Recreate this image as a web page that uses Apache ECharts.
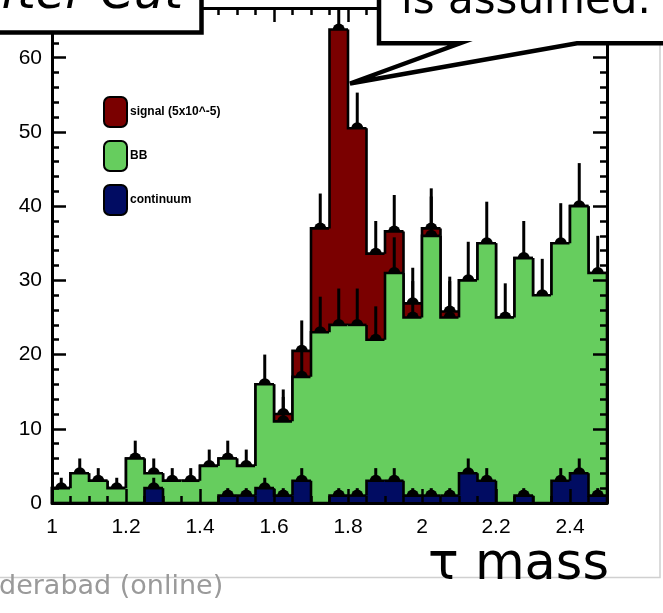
<!DOCTYPE html>
<html>
<head>
<meta charset="utf-8">
<script src="https://cdn.jsdelivr.net/npm/echarts@6/dist/echarts.min.js"></script>
<style>
  html, body { margin: 0; padding: 0; background: #fff; }
  #chart { width: 663px; height: 613px; }
</style>
</head>
<body>
<div id="chart"></div>
<script>
// tau mass histogram: lower bin edges (bin width 0.05)
const binStart = [1.00, 1.05, 1.10, 1.15, 1.20, 1.25, 1.30, 1.35, 1.40, 1.45,
                  1.50, 1.55, 1.60, 1.65, 1.70, 1.75, 1.80, 1.85, 1.90, 1.95,
                  2.00, 2.05, 2.10, 2.15, 2.20, 2.25, 2.30, 2.35, 2.40, 2.45];
const binWidth = 0.05;

// entries per bin for each stacked component
const continuum = [0, 0, 0, 0, 0, 2, 0, 0, 0, 1, 1, 2, 1, 3, 0, 1, 1, 3, 3, 1, 1, 1, 4, 3, 0, 1, 0, 3, 4, 1];
const bb        = [2, 4, 3, 2, 6, 2, 3, 3, 5, 5, 4, 14, 10, 14, 23, 23, 23, 19, 28, 24, 35, 24, 26, 32, 25, 32, 28, 32, 36, 30];
const signal    = [0, 0, 0, 0, 0, 0, 0, 0, 0, 0, 0, 0, 1, 3.5, 14, 39.8, 26.5, 11.6, 5.6, 1.9, 1, 0.8, 0, 0, 0, 0, 0, 0, 0, 0];

// upward error bar lengths at the top of each stack level
const errContinuum = [0, 0, 0, 0, 0, 1.4, 0, 0, 0, 1, 1, 1.4, 1, 1.7, 0, 1, 1, 1.7, 1.7, 1, 1, 1, 2, 1.7, 0, 1, 0, 1.7, 2, 1];
const errBB        = [1.4, 2.0, 1.7, 1.4, 2.4, 2.0, 1.7, 1.7, 2.2, 2.4, 2.2, 4.0, 3.3, 4.1, 4.8, 4.9, 4.9, 4.5, 4.8, 4.9,
                      5.3, 4.9, 5.2, 5.6, 4.6, 5.0, 4.9, 5.4, 5.8, 5.0];
const errSignal    = [0, 0, 0, 0, 0, 0, 0, 0, 0, 0, 0, 0, 3.3, 4.1, 4.7, 5.0, 4.8, 4.4, 4.9, 4.8, 5.4, 4.7, 0, 0, 0, 0, 0, 0, 0, 0];

const xTickLabels = ['1', '1.2', '1.4', '1.6', '1.8', '2', '2.2', '2.4'];
const yTickLabels = ['0', '10', '20', '30', '40', '50', '60'];

const X_MIN = 1, X_MAX = 2.5, Y_MIN = 0, Y_MAX = 66.7;
const COLORS = { signal: '#7a0000', bb: '#66cd5e', continuum: '#010c62' };

// cumulative stack tops
const topCont = continuum.slice();
const topBB = bb.map((v, i) => v + continuum[i]);
const topSig = signal.map((v, i) => v + topBB[i]);

function histData(tops) {
  return tops.map((t, i) => [binStart[i], binStart[i] + binWidth, t, i === 0 ? 0 : tops[i - 1], i === tops.length - 1 ? 1 : 0]);
}

function histRenderer(color) {
  return function (params, api) {
    const x0 = api.value(0), x1 = api.value(1), top = api.value(2), prev = api.value(3), last = api.value(4);
    const a = api.coord([x0, 0]);
    const b = api.coord([x1, top]);
    const c = api.coord([x1, 0]);
    const pts = [api.coord([x0, prev]), api.coord([x0, top]), b];
    if (last) pts.push(c);
    const children = [];
    if (a[1] - b[1] > 0.01) {
      // slight overlap so neighbouring bins fill without seams
      children.push({ type: 'rect', shape: { x: a[0] - 0.5, y: b[1], width: c[0] - a[0] + 1, height: a[1] - b[1] }, style: { fill: color } });
    }
    children.push({ type: 'polyline', shape: { points: pts }, style: { stroke: '#000', lineWidth: 2.6, fill: null, lineJoin: 'miter' } });
    return { type: 'group', children: children };
  };
}

function errData(tops, comp, errs) {
  const out = [];
  tops.forEach((t, i) => {
    if (comp[i] > 0) out.push([binStart[i] + binWidth / 2, t, errs[i]]);
  });
  return out;
}

function errRenderer(params, api) {
  const xc = api.value(0), y = api.value(1), e = api.value(2);
  const p = api.coord([xc, y]);
  const q = api.coord([xc, Math.min(y + e, Y_MAX)]);
  return {
    type: 'group',
    children: [
      { type: 'line', shape: { x1: p[0], y1: p[1], x2: q[0], y2: q[1] }, style: { stroke: '#000', lineWidth: 3 } },
      { type: 'sector', shape: { cx: p[0], cy: p[1], r: 6, r0: 0, startAngle: Math.PI, endAngle: Math.PI * 2, clockwise: true }, style: { fill: '#000' } }
    ]
  };
}

const tickStyle = { color: '#000', width: 2.5 };
const axisFont = { fontFamily: 'Liberation Sans, Arial, sans-serif', fontSize: 21, color: '#000' };

function xAxisDef(position, interval, major) {
  return {
    type: 'value', position: position, min: X_MIN, max: X_MAX, interval: interval, z: 10,
    axisLine: { show: major, onZero: false, lineStyle: { color: '#000', width: 3 } },
    axisTick: { show: true, inside: true, length: major ? 14 : 7, lineStyle: tickStyle },
    axisLabel: (major && position === 'bottom') ? Object.assign({
      show: true, margin: 14, showMaxLabel: false,
      formatter: v => xTickLabels.find(s => Math.abs(parseFloat(s) - v) < 1e-6) || ''
    }, axisFont) : { show: false },
    splitLine: { show: false }
  };
}
function yAxisDef(position, interval, major) {
  return {
    type: 'value', position: position, min: Y_MIN, max: Y_MAX, interval: interval, z: 10,
    axisLine: { show: major, onZero: false, lineStyle: { color: '#000', width: 3 } },
    axisTick: { show: true, inside: true, length: major ? 14 : 7, lineStyle: tickStyle },
    axisLabel: (major && position === 'left') ? Object.assign({
      show: true, margin: 10, showMaxLabel: false,
      formatter: v => yTickLabels.find(s => Math.abs(parseFloat(s) - v) < 1e-6) || ''
    }, axisFont) : { show: false },
    splitLine: { show: false }
  };
}

const chart = echarts.init(document.getElementById('chart'), null, { renderer: 'canvas' });
chart.setOption({
  animation: false,
  backgroundColor: '#fff',
  grid: { left: 52, right: 56, top: 8, bottom: 110, containLabel: false },
  xAxis: [
    xAxisDef('bottom', 0.2, true), xAxisDef('bottom', 0.05, false),
    xAxisDef('top', 0.2, true), xAxisDef('top', 0.05, false)
  ],
  yAxis: [
    yAxisDef('left', 10, true), yAxisDef('left', 2, false),
    yAxisDef('right', 10, true), yAxisDef('right', 2, false)
  ],
  legend: {
    data: ['signal (5x10^-5)', 'BB', 'continuum'],
    orient: 'vertical', left: 103, top: 96, padding: 0,
    itemWidth: 23, itemHeight: 30, itemGap: 12,
    icon: 'roundRect', selectedMode: false,
    itemStyle: { borderColor: '#000', borderWidth: 2 },
    textStyle: { fontFamily: 'Liberation Sans, Arial, sans-serif', fontWeight: 'bold', fontSize: 12, color: '#000', padding: [0, 0, 0, -2] }
  },
  series: [
    { name: 'signal (5x10^-5)', type: 'custom', z: 2, itemStyle: { color: COLORS.signal },
      renderItem: histRenderer(COLORS.signal), encode: { x: [0, 1], y: 2 }, data: histData(topSig) },
    { name: 'BB', type: 'custom', z: 3, itemStyle: { color: COLORS.bb },
      renderItem: histRenderer(COLORS.bb), encode: { x: [0, 1], y: 2 }, data: histData(topBB) },
    { name: 'continuum', type: 'custom', z: 4, itemStyle: { color: COLORS.continuum },
      renderItem: histRenderer(COLORS.continuum), encode: { x: [0, 1], y: 2 }, data: histData(topCont) },
    { name: 'err-continuum', type: 'custom', z: 5, renderItem: errRenderer, encode: { x: 0, y: 1 },
      data: errData(topCont, continuum, errContinuum) },
    { name: 'err-bb', type: 'custom', z: 5, renderItem: errRenderer, encode: { x: 0, y: 1 },
      data: errData(topBB, bb, errBB) },
    { name: 'err-signal', type: 'custom', z: 5, renderItem: errRenderer, encode: { x: 0, y: 1 },
      data: errData(topSig, signal, errSignal) }
  ],
  graphic: [
    // slide frame edge
    { type: 'polyline', z: 50, shape: { points: [[0, 577.5], [660, 577.5], [660, 0]] },
      style: { stroke: '#d0d0d0', lineWidth: 1.5, fill: null } },
    { type: 'text', z: 50, style: { text: 'derabad (online)', x: -1, y: 587, textAlign: 'left', textVerticalAlign: 'middle',
      font: '27px "DejaVu Sans", sans-serif', fill: '#9a9a9a' } },
    { type: 'text', z: 50, style: { text: 'τ mass', x: 609, y: 566, textAlign: 'right', textVerticalAlign: 'middle',
      font: '51px "DejaVu Sans", sans-serif', fill: '#000' } },
    // callout boxes
    { type: 'polygon', z: 60, shape: { points: [[-10, -10], [201.5, -10], [201.5, 32.5], [-10, 32.5]] },
      style: { fill: '#fff', stroke: '#000', lineWidth: 4.5, lineJoin: 'miter' } },
    { type: 'text', z: 61, style: { text: 'After Cut', x: 183, y: -4, textAlign: 'right', textVerticalAlign: 'middle',
      font: 'italic 48px "DejaVu Sans", sans-serif', fill: '#000' } },
    { type: 'polygon', z: 60, shape: { points: [[379, -10], [379, 43.3], [460, 43.3], [350, 83.5], [577, 43.3], [690, 43.3], [690, -10]] },
      style: { fill: '#fff', stroke: '#000', lineWidth: 4.5, lineJoin: 'miter' } },
    { type: 'text', z: 61, style: { text: 'is assumed.', x: 401, y: 2.5, textAlign: 'left', textVerticalAlign: 'middle',
      font: '42px "DejaVu Sans", sans-serif', fill: '#000' } }
  ]
});
</script>
</body>
</html>
